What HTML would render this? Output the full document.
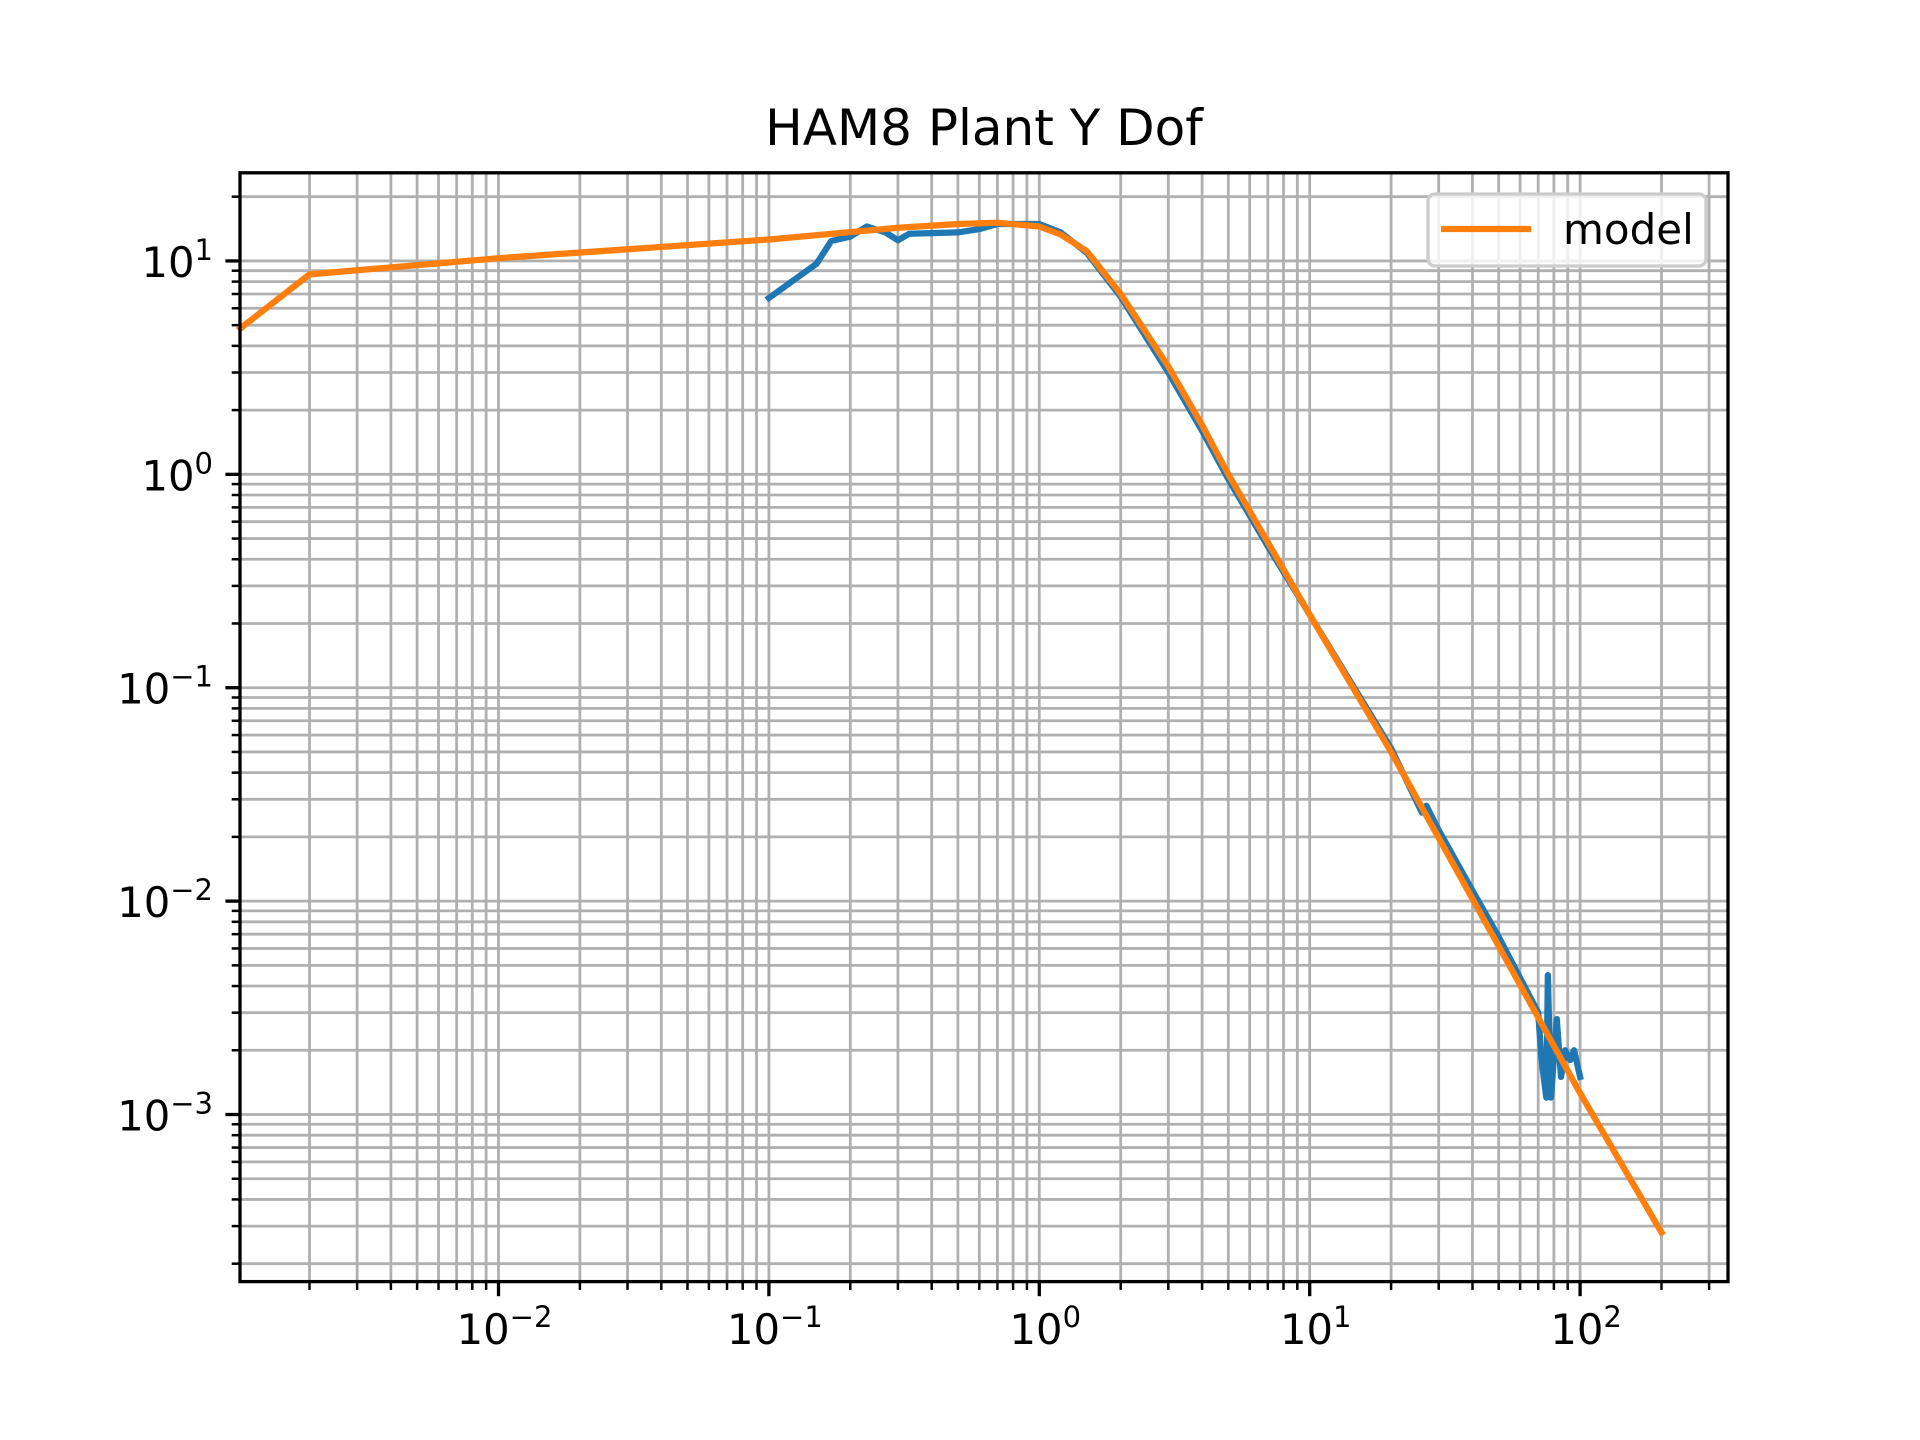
<!DOCTYPE html>
<html><head><meta charset="utf-8"><style>
html,body{margin:0;padding:0;background:#fff;}
svg{display:block;font-family:"DejaVu Sans","Liberation Sans",sans-serif;}
</style></head><body>
<svg id="chart" width="1920" height="1440" viewBox="0 0 1920 1440" xmlns="http://www.w3.org/2000/svg">
<rect width="1920" height="1440" fill="#fff"/>
<g id="grid"></g>
<g id="ticks"></g>
<g id="series"></g>
<rect x="240" y="172.8" width="1488" height="1108.8" fill="none" stroke="#000" stroke-width="3.3"/>
<text x="984" y="145" font-size="50" text-anchor="middle">HAM8 Plant Y Dof</text>
<g>
<rect x="1428" y="194" width="278" height="72" rx="7" fill="#fff" fill-opacity="0.8" stroke="#ccc" stroke-width="3.3"/>
<line x1="1441" y1="229" x2="1531" y2="229" stroke="#ff7f0e" stroke-width="6.25"/>
<text x="1563" y="244" font-size="42">model</text>
</g>
</svg>
<script>
const modelFreq = [0.00111, 0.002, 0.01, 0.1, 0.3, 0.5, 0.7, 1.0, 1.2, 1.5, 2, 3, 4, 5, 7, 10, 20, 100, 200];
const modelMag = [4.83, 8.65, 10.3, 12.6, 14.3, 14.9, 15.1, 14.5, 13.3, 11.1, 7.0, 3.2, 1.7, 1.0, 0.48, 0.22, 0.05, 0.00126, 0.00028];
const measFreq = [0.1, 0.15, 0.17, 0.2, 0.23, 0.27, 0.3, 0.33, 0.5, 0.6, 0.7, 1.0, 1.2, 1.5, 2, 3, 4, 5, 7, 10, 20, 26, 27, 30, 40, 50, 70, 72, 75, 76, 78, 82, 85, 88, 92, 95, 100];
const measMag = [6.7, 9.7, 12.4, 13.0, 14.5, 13.6, 12.5, 13.4, 13.6, 14.1, 14.9, 14.9, 13.6, 10.9, 6.8, 3.0, 1.6, 0.95, 0.46, 0.22, 0.052, 0.026, 0.028, 0.0215, 0.0112, 0.0068, 0.003, 0.0018, 0.0012, 0.0045, 0.0012, 0.0028, 0.0015, 0.002, 0.0018, 0.002, 0.0015];
const xTickExps = [-2, -1, 0, 1, 2];
const yTickExps = [1, 0, -1, -2, -3];

const NS = "http://www.w3.org/2000/svg";
const L = 240, R = 1728, T = 172.8, B = 1281.6;
const xMin = -2.956, xMax = 2.547, yMin = -3.783, yMax = 1.413;
const sx = v => L + (Math.log10(v) - xMin) / (xMax - xMin) * (R - L);
const sy = v => B - (Math.log10(v) - yMin) / (yMax - yMin) * (B - T);
function mk(tag, attrs, parent) {
  const e = document.createElementNS(NS, tag);
  for (const k in attrs) e.setAttribute(k, attrs[k]);
  parent.appendChild(e);
  return e;
}
const grid = document.getElementById('grid');
const ticks = document.getElementById('ticks');
for (let d = -3; d <= 2; d++) {
  for (let m = 1; m <= 9; m++) {
    const v = m * Math.pow(10, d);
    const lv = Math.log10(v);
    if (lv < xMin || lv > xMax) continue;
    const x = sx(v);
    const g = mk('line', {x1: x, x2: x, y1: T, y2: B, stroke: '#b0b0b0', 'stroke-width': 2.8}, grid);
    
    
    const t = mk('line', {x1: x, x2: x, y1: B, y2: B + (m === 1 ? 14.6 : 8.3), stroke: '#000', 'stroke-width': m === 1 ? 3.3 : 2.5}, ticks);
    
    
  }
}
for (let d = -4; d <= 1; d++) {
  for (let m = 1; m <= 9; m++) {
    const v = m * Math.pow(10, d);
    const lv = Math.log10(v);
    if (lv < yMin || lv > yMax) continue;
    const y = sy(v);
    const g = mk('line', {x1: L, x2: R, y1: y, y2: y, stroke: '#b0b0b0', 'stroke-width': 2.8}, grid);
    
    
    const t = mk('line', {x1: L, x2: L - (m === 1 ? 14.6 : 8.3), y1: y, y2: y, stroke: '#000', 'stroke-width': m === 1 ? 3.3 : 2.5}, ticks);
    
    
  }
}
function expLabel(parent, x, y, e, anchor) {
  const t = mk('text', {x: x, y: y, 'font-size': 41.7, 'text-anchor': anchor}, parent);
  t.appendChild(document.createTextNode('10'));
  const s = mk('tspan', {'font-size': 29, dy: -17}, t);
  s.textContent = (e < 0 ? '\u2212' : '') + Math.abs(e);
  return t;
}
xTickExps.forEach(e => {
  const t = expLabel(ticks, sx(Math.pow(10, e)) + 6, 1344, e, 'middle');
  
  
});
yTickExps.forEach(e => {
  const t = expLabel(ticks, 213, sy(Math.pow(10, e)) + 16, e, 'end');
  
  
});
const series = document.getElementById('series');
const meas = mk('polyline', {points: measFreq.map((f, i) => sx(f) + ',' + sy(measMag[i])).join(' '), fill: 'none', stroke: '#1f77b4', 'stroke-width': 6.25, 'stroke-linejoin': 'round', 'stroke-linecap': 'square'}, series);


const model = mk('polyline', {points: modelFreq.map((f, i) => sx(f) + ',' + sy(modelMag[i])).join(' '), fill: 'none', stroke: '#ff7f0e', 'stroke-width': 6.25, 'stroke-linejoin': 'round', 'stroke-linecap': 'square'}, series);


</script>
</body></html>
